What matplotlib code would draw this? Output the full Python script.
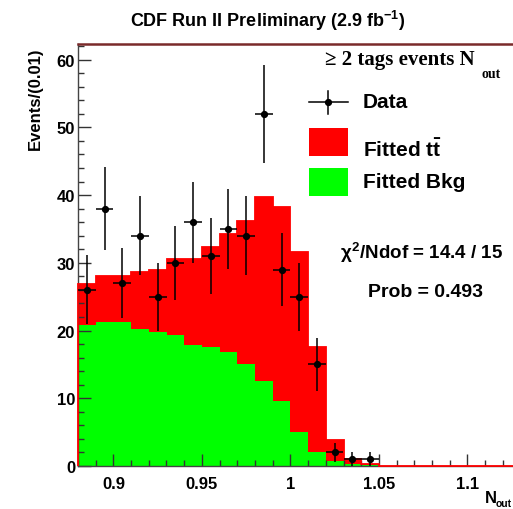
import numpy as np
import matplotlib
matplotlib.use("Agg")
import matplotlib.pyplot as plt
from matplotlib.ticker import MultipleLocator, FixedLocator, FixedFormatter
from matplotlib.patches import Rectangle
from matplotlib.lines import Line2D

# ---- histogram binning (N_out, 0.01 wide bins) ----
bin_lo = 0.88
bin_width = 0.01
n_bins = 25

# observed events per bin
data_counts = [26, 38, 27, 34, 25, 30, 36, 31, 35, 34, 52, 29, 25, 15,
               2, 1, 1, 0, 0, 0, 0, 0, 0, 0, 0]
# fitted stack: top of ttbar (ttbar + bkg) and background alone
fit_total = [26.9, 28.0, 28.1, 28.6, 28.9, 30.5, 30.6, 32.3, 34.2, 36.1,
             39.7, 38.3, 31.6, 17.5, 3.8, 1.0, 0.3, 0, 0, 0, 0, 0, 0, 0, 0]
fit_bkg = [20.8, 21.2, 21.2, 20.2, 19.75, 19.4, 17.8, 17.5, 16.8, 15.1,
           12.6, 9.6, 5.0, 2.0, 0.7, 0.25, 0.1, 0, 0, 0, 0, 0, 0, 0, 0]

x_ticks = [0.9, 0.95, 1.0, 1.05, 1.1]
x_tick_labels = ["0.9", "0.95", "1", "1.05", "1.1"]
y_ticks = [0, 10, 20, 30, 40, 50, 60]

title = "CDF Run II Preliminary (2.9 fb$^{\\mathbf{-1}}$)"
fit_text = ["$\\chi^2$/Ndof = 14.4 / 15", "Prob = 0.493"]

W, H = 513, 510
SANS = "Liberation Sans"
SERIF = "Liberation Serif"
plt.rcParams["mathtext.fontset"] = "custom"
plt.rcParams["mathtext.rm"] = "Liberation Sans:bold"
plt.rcParams["mathtext.bf"] = "Liberation Sans:bold"
plt.rcParams["mathtext.it"] = "Liberation Sans:bold"

fig = plt.figure(figsize=(W / 100, H / 100), dpi=100)


def fx(px):
    return px / W


def fy(py):
    return 1 - py / H


# axes frame in pixel geometry (right edge runs past the canvas)
ax_l, ax_t, ax_b = 78, 45, 467
ax_w = 442.5
ax = fig.add_axes([fx(ax_l), fy(ax_b), ax_w / W, (ax_b - ax_t) / H])

edges = bin_lo + bin_width * np.arange(n_bins + 1)
centers = 0.5 * (edges[:-1] + edges[1:])

ax.stairs(fit_total, edges, fill=True, color="#ff0000", lw=0, zorder=1)
ax.stairs(fit_bkg, edges, fill=True, color="#00ff00", lw=0, zorder=1.5)
ax.stairs(fit_total, edges, color="#ff0000", lw=1.3, zorder=3, clip_on=False)

counts = np.array(data_counts, dtype=float)
mask = counts > 0
ax.errorbar(centers[mask], counts[mask], yerr=np.sqrt(counts[mask]),
            xerr=bin_width / 2, fmt="o", color="black", ms=4.2,
            elinewidth=1.1, capsize=0, zorder=4)

ax.set_xlim(edges[0], edges[-1])
ax.set_ylim(0, 62.3)

ax.xaxis.set_major_locator(FixedLocator(x_ticks))
ax.xaxis.set_major_formatter(FixedFormatter(x_tick_labels))
ax.xaxis.set_minor_locator(MultipleLocator(0.01))
ax.yaxis.set_major_locator(FixedLocator(y_ticks))
ax.yaxis.set_minor_locator(MultipleLocator(2))

ax.tick_params(which="both", direction="in", top=False, right=False,
               color="#333333", width=1.0)
ax.tick_params(which="major", length=9)
ax.tick_params(which="minor", length=4.5)
ax.tick_params(axis="x", pad=7)
ax.tick_params(axis="y", pad=2)
for lab in ax.get_xticklabels() + ax.get_yticklabels():
    lab.set_fontfamily(SANS)
    lab.set_fontweight("bold")
    lab.set_fontsize(12)

for side in ("left", "bottom"):
    ax.spines[side].set_color("#444444")
    ax.spines[side].set_linewidth(1.0)
ax.spines["top"].set_color("#7a2a2a")
ax.spines["top"].set_linewidth(1.8)
ax.spines["right"].set_visible(False)
# thin red inner edge of the frame
ax.plot([edges[0], edges[0]], [0, 62.3], color="#ff0000", lw=0.6,
        zorder=0.5, transform=ax.transData)

# titles
fig.text(fx(268), fy(21), title, ha="center", va="center",
         fontfamily=SANS, fontweight="bold", fontsize=13)
fig.text(fx(35), fy(47), "Events/(0.01)", ha="center", va="top",
         rotation=90, fontfamily=SANS, fontweight="bold", fontsize=12)
fig.text(fx(485), fy(499), "N", ha="left", va="center",
         fontfamily=SANS, fontweight="bold", fontsize=12)
fig.text(fx(496), fy(504), "out", ha="left", va="center",
         fontfamily=SANS, fontweight="bold", fontsize=7.5)

# selection label
fig.text(fx(325), fy(60), "\u2265 2 tags events N", ha="left", va="center",
         fontfamily=SERIF, fontweight="bold", fontsize=15)
fig.text(fx(482), fy(74), "out", ha="left", va="center",
         fontfamily=SERIF, fontweight="bold", fontsize=10)

# legend
fig.add_artist(Line2D([fx(309), fx(348)], [fy(103), fy(103)],
                      color="black", lw=1.1))
fig.add_artist(Line2D([fx(328), fx(328)], [fy(92), fy(115)],
                      color="black", lw=1.1))
fig.add_artist(Line2D([fx(328)], [fy(103)], marker="o", ms=4.2,
                      color="black", lw=0))
fig.add_artist(Rectangle((fx(309), fy(157)), fx(348) - fx(309),
                         fy(129) - fy(157), transform=fig.transFigure,
                         color="#ff0000", lw=0))
fig.add_artist(Rectangle((fx(309), fy(197)), fx(348) - fx(309),
                         fy(169) - fy(197), transform=fig.transFigure,
                         color="#00ff00", lw=0))
fig.text(fx(363), fy(103), "Data", ha="left", va="center",
         fontfamily=SANS, fontweight="bold", fontsize=15)
fig.text(fx(363), fy(150), "Fitted t$\\bar{\\mathrm{t}}$", ha="left",
         va="center", fontfamily=SANS, fontweight="bold", fontsize=15)
fig.text(fx(363), fy(183), "Fitted Bkg", ha="left", va="center",
         fontfamily=SANS, fontweight="bold", fontsize=15)

# fit quality
fig.text(fx(422), fy(253), fit_text[0], ha="center", va="center",
         fontfamily=SANS, fontweight="bold", fontsize=13.5)
fig.text(fx(425), fy(293), fit_text[1], ha="center", va="center",
         fontfamily=SANS, fontweight="bold", fontsize=14)

fig.savefig("out.png", dpi=100)
